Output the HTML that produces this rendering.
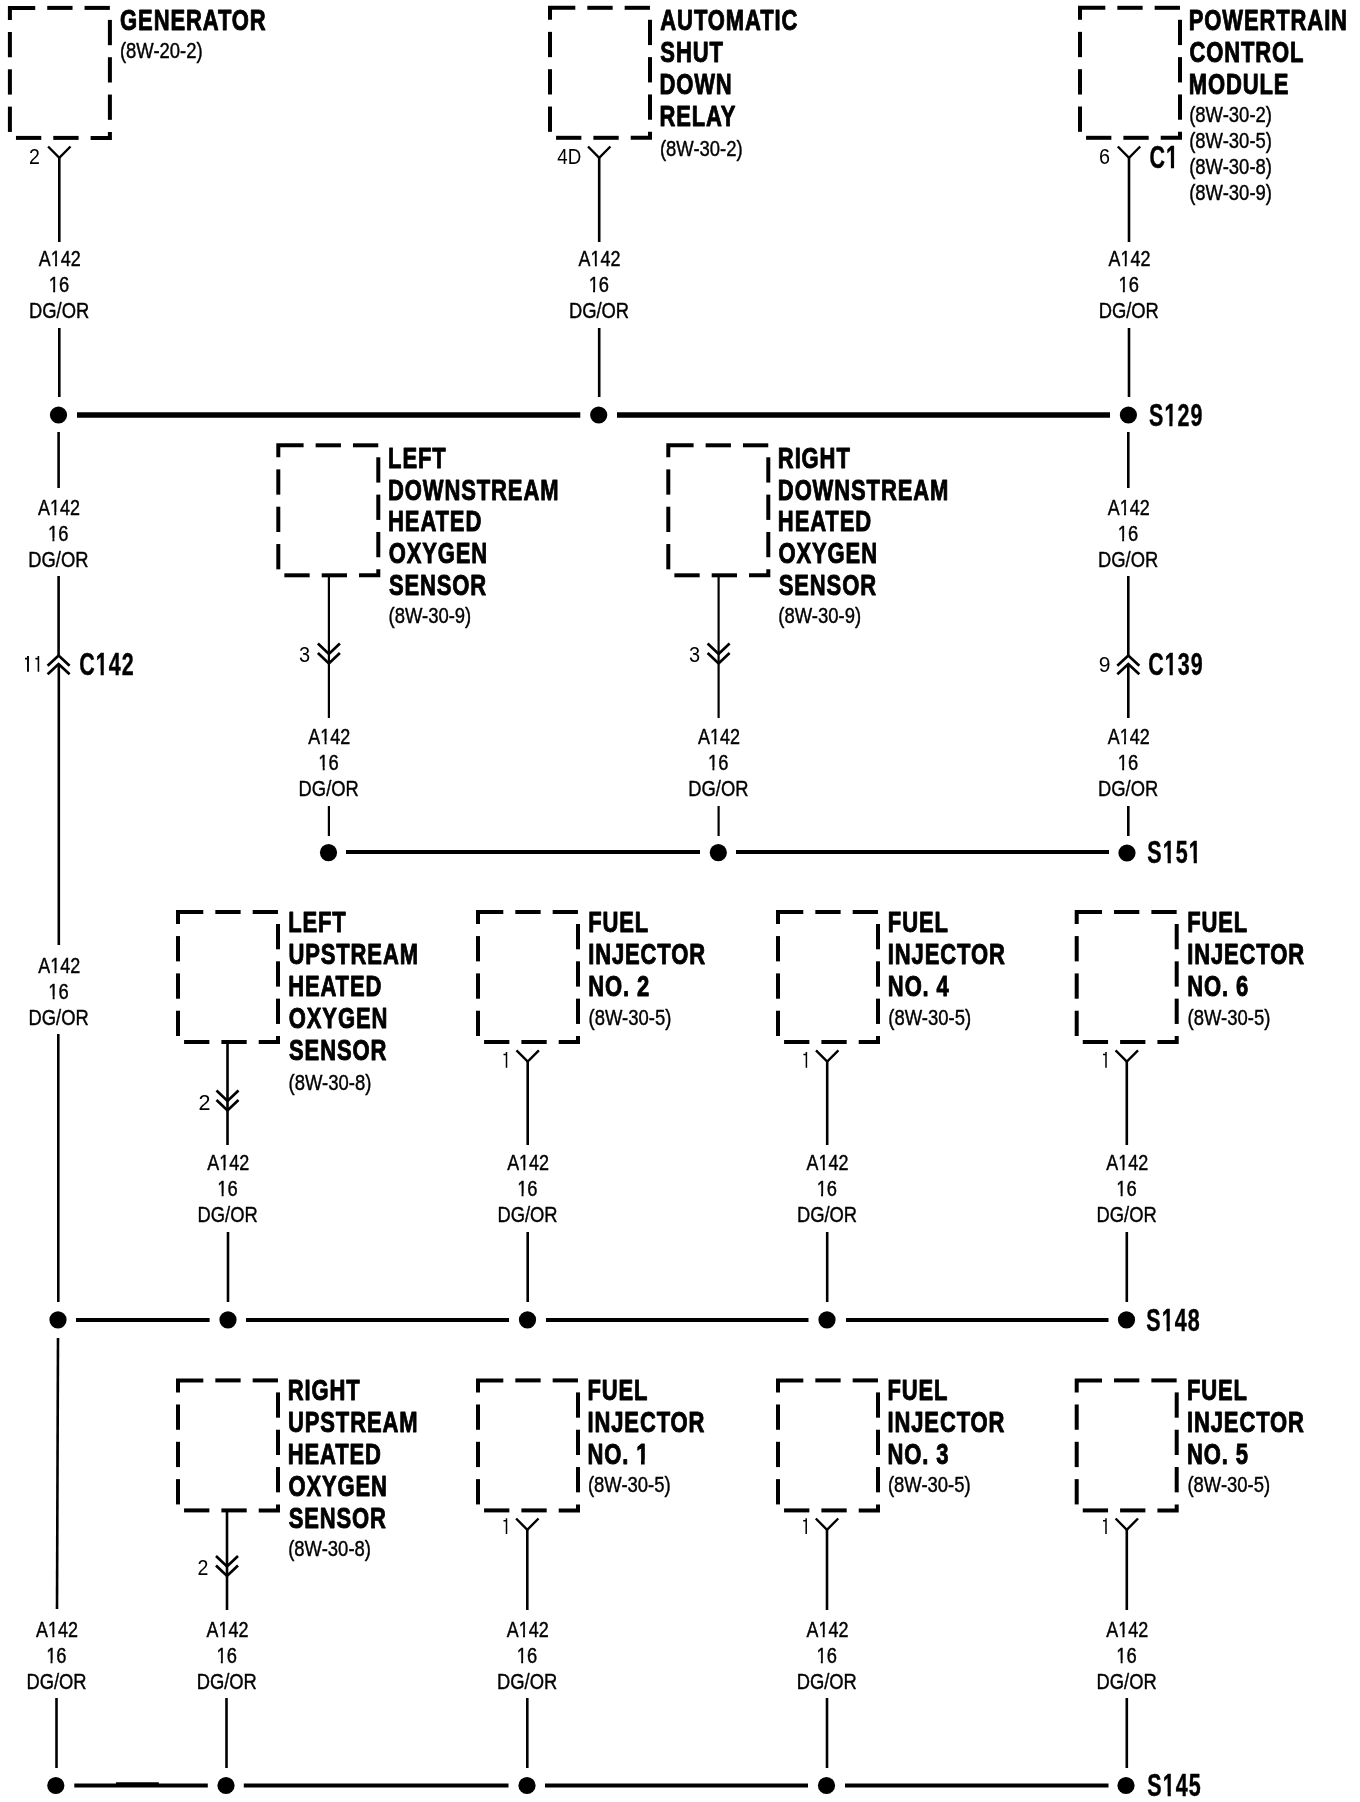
<!DOCTYPE html>
<html><head><meta charset="utf-8"><title>A142 splice diagram</title><style>
html,body{margin:0;padding:0;background:#fff;}
svg{display:block;will-change:transform;}
text{font-family:"Liberation Sans",sans-serif;fill:#000;}
</style></head><body>
<svg width="1360" height="1802" viewBox="0 0 1360 1802">
<rect width="1360" height="1802" fill="#fff"/>
<g stroke="#000" fill="#000" stroke-linecap="butt">
<path d="M9.90,19.94 L9.90,7.90 L35.20,7.90" fill="none" stroke-width="4.0" stroke-linejoin="miter"/>
<path d="M47.23,7.90 L72.53,7.90" fill="none" stroke-width="4.0" stroke-linejoin="miter"/>
<path d="M84.56,7.90 L109.86,7.90" fill="none" stroke-width="4.0" stroke-linejoin="miter"/>
<path d="M109.90,19.89 L109.90,45.19" fill="none" stroke-width="4.0" stroke-linejoin="miter"/>
<path d="M109.90,57.22 L109.90,82.52" fill="none" stroke-width="4.0" stroke-linejoin="miter"/>
<path d="M109.90,94.55 L109.90,119.85" fill="none" stroke-width="4.0" stroke-linejoin="miter"/>
<path d="M109.90,131.88 L109.90,137.90 L90.62,137.90" fill="none" stroke-width="4.0" stroke-linejoin="miter"/>
<path d="M78.59,137.90 L53.29,137.90" fill="none" stroke-width="4.0" stroke-linejoin="miter"/>
<path d="M41.26,137.90 L15.96,137.90" fill="none" stroke-width="4.0" stroke-linejoin="miter"/>
<path d="M9.90,131.93 L9.90,106.63" fill="none" stroke-width="4.0" stroke-linejoin="miter"/>
<path d="M9.90,94.60 L9.90,69.30" fill="none" stroke-width="4.0" stroke-linejoin="miter"/>
<path d="M9.90,57.27 L9.90,31.97" fill="none" stroke-width="4.0" stroke-linejoin="miter"/>
<path d="M550.00,19.84 L550.00,7.80 L575.30,7.80" fill="none" stroke-width="4.0" stroke-linejoin="miter"/>
<path d="M587.33,7.80 L612.63,7.80" fill="none" stroke-width="4.0" stroke-linejoin="miter"/>
<path d="M624.66,7.80 L649.96,7.80" fill="none" stroke-width="4.0" stroke-linejoin="miter"/>
<path d="M650.00,19.79 L650.00,45.09" fill="none" stroke-width="4.0" stroke-linejoin="miter"/>
<path d="M650.00,57.12 L650.00,82.42" fill="none" stroke-width="4.0" stroke-linejoin="miter"/>
<path d="M650.00,94.45 L650.00,119.75" fill="none" stroke-width="4.0" stroke-linejoin="miter"/>
<path d="M650.00,131.78 L650.00,137.80 L630.72,137.80" fill="none" stroke-width="4.0" stroke-linejoin="miter"/>
<path d="M618.69,137.80 L593.39,137.80" fill="none" stroke-width="4.0" stroke-linejoin="miter"/>
<path d="M581.36,137.80 L556.06,137.80" fill="none" stroke-width="4.0" stroke-linejoin="miter"/>
<path d="M550.00,131.83 L550.00,106.53" fill="none" stroke-width="4.0" stroke-linejoin="miter"/>
<path d="M550.00,94.50 L550.00,69.20" fill="none" stroke-width="4.0" stroke-linejoin="miter"/>
<path d="M550.00,57.17 L550.00,31.87" fill="none" stroke-width="4.0" stroke-linejoin="miter"/>
<path d="M1080.00,19.84 L1080.00,7.80 L1105.30,7.80" fill="none" stroke-width="4.0" stroke-linejoin="miter"/>
<path d="M1117.33,7.80 L1142.63,7.80" fill="none" stroke-width="4.0" stroke-linejoin="miter"/>
<path d="M1154.66,7.80 L1179.96,7.80" fill="none" stroke-width="4.0" stroke-linejoin="miter"/>
<path d="M1180.00,19.79 L1180.00,45.09" fill="none" stroke-width="4.0" stroke-linejoin="miter"/>
<path d="M1180.00,57.12 L1180.00,82.42" fill="none" stroke-width="4.0" stroke-linejoin="miter"/>
<path d="M1180.00,94.45 L1180.00,119.75" fill="none" stroke-width="4.0" stroke-linejoin="miter"/>
<path d="M1180.00,131.78 L1180.00,137.80 L1160.72,137.80" fill="none" stroke-width="4.0" stroke-linejoin="miter"/>
<path d="M1148.69,137.80 L1123.39,137.80" fill="none" stroke-width="4.0" stroke-linejoin="miter"/>
<path d="M1111.36,137.80 L1086.06,137.80" fill="none" stroke-width="4.0" stroke-linejoin="miter"/>
<path d="M1080.00,131.83 L1080.00,106.53" fill="none" stroke-width="4.0" stroke-linejoin="miter"/>
<path d="M1080.00,94.50 L1080.00,69.20" fill="none" stroke-width="4.0" stroke-linejoin="miter"/>
<path d="M1080.00,57.17 L1080.00,31.87" fill="none" stroke-width="4.0" stroke-linejoin="miter"/>
<path d="M48.099999999999994,146.5 L59.3,157.8 L70.5,146.5" fill="none" stroke-width="2.4"/>
<path d="M588.0,146.5 L599.2,157.8 L610.4000000000001,146.5" fill="none" stroke-width="2.4"/>
<path d="M1117.8,146.5 L1129,157.8 L1140.2,146.5" fill="none" stroke-width="2.4"/>
<line x1="59.3" y1="157" x2="59.3" y2="242" stroke-width="2.6"/>
<line x1="59.3" y1="328" x2="59.3" y2="397" stroke-width="2.6"/>
<line x1="599.2" y1="157" x2="599.2" y2="242" stroke-width="2.6"/>
<line x1="599.2" y1="328" x2="599.2" y2="397" stroke-width="2.6"/>
<line x1="1129" y1="157" x2="1129" y2="242" stroke-width="2.6"/>
<line x1="1129" y1="328" x2="1129" y2="397" stroke-width="2.6"/>
<circle cx="58.5" cy="415" r="8.6" stroke="none"/>
<circle cx="598.7" cy="415" r="8.6" stroke="none"/>
<circle cx="1128.4" cy="415" r="8.6" stroke="none"/>
<line x1="77" y1="415" x2="580.3" y2="415" stroke-width="5.5"/>
<line x1="617" y1="415" x2="1110" y2="415" stroke-width="5.5"/>
<line x1="58.6" y1="432" x2="58.6" y2="488" stroke-width="2.6"/>
<line x1="58.6" y1="576" x2="58.6" y2="656" stroke-width="2.6"/>
<line x1="1128.3" y1="432" x2="1128.3" y2="488" stroke-width="2.6"/>
<line x1="1128.3" y1="576" x2="1128.3" y2="656" stroke-width="2.6"/>
<path d="M47.6,665.8 L58.6,655.5 L69.6,665.8" fill="none" stroke-width="2.7"/>
<path d="M47.6,674.3 L58.6,664.0 L69.6,674.3" fill="none" stroke-width="2.7"/>
<path d="M1117.3,665.8 L1128.3,655.5 L1139.3,665.8" fill="none" stroke-width="2.7"/>
<path d="M1117.3,674.3 L1128.3,664.0 L1139.3,674.3" fill="none" stroke-width="2.7"/>
<path d="M28.0,671.8 V656.0 M25.0,658.6 H28.3" fill="none" stroke-width="1.9"/>
<path d="M38.4,671.8 V656.0 M35.4,658.6 H38.699999999999996" fill="none" stroke-width="1.6"/>
<line x1="1128.3" y1="664" x2="1128.3" y2="718" stroke-width="2.6"/>
<line x1="1128.3" y1="806" x2="1128.3" y2="836" stroke-width="2.6"/>
<line x1="58.8" y1="664" x2="58.8" y2="945" stroke-width="2.6"/>
<line x1="58.3" y1="1034" x2="58.3" y2="1302" stroke-width="2.6"/>
<path d="M278.30,457.34 L278.30,445.30 L303.60,445.30" fill="none" stroke-width="4.0" stroke-linejoin="miter"/>
<path d="M315.63,445.30 L340.93,445.30" fill="none" stroke-width="4.0" stroke-linejoin="miter"/>
<path d="M352.96,445.30 L378.26,445.30" fill="none" stroke-width="4.0" stroke-linejoin="miter"/>
<path d="M378.30,457.29 L378.30,482.59" fill="none" stroke-width="4.0" stroke-linejoin="miter"/>
<path d="M378.30,494.62 L378.30,519.92" fill="none" stroke-width="4.0" stroke-linejoin="miter"/>
<path d="M378.30,531.95 L378.30,557.25" fill="none" stroke-width="4.0" stroke-linejoin="miter"/>
<path d="M378.30,569.28 L378.30,575.30 L359.02,575.30" fill="none" stroke-width="4.0" stroke-linejoin="miter"/>
<path d="M346.99,575.30 L321.69,575.30" fill="none" stroke-width="4.0" stroke-linejoin="miter"/>
<path d="M309.66,575.30 L284.36,575.30" fill="none" stroke-width="4.0" stroke-linejoin="miter"/>
<path d="M278.30,569.33 L278.30,544.03" fill="none" stroke-width="4.0" stroke-linejoin="miter"/>
<path d="M278.30,532.00 L278.30,506.70" fill="none" stroke-width="4.0" stroke-linejoin="miter"/>
<path d="M278.30,494.67 L278.30,469.37" fill="none" stroke-width="4.0" stroke-linejoin="miter"/>
<path d="M668.30,457.34 L668.30,445.30 L693.60,445.30" fill="none" stroke-width="4.0" stroke-linejoin="miter"/>
<path d="M705.63,445.30 L730.93,445.30" fill="none" stroke-width="4.0" stroke-linejoin="miter"/>
<path d="M742.96,445.30 L768.26,445.30" fill="none" stroke-width="4.0" stroke-linejoin="miter"/>
<path d="M768.30,457.29 L768.30,482.59" fill="none" stroke-width="4.0" stroke-linejoin="miter"/>
<path d="M768.30,494.62 L768.30,519.92" fill="none" stroke-width="4.0" stroke-linejoin="miter"/>
<path d="M768.30,531.95 L768.30,557.25" fill="none" stroke-width="4.0" stroke-linejoin="miter"/>
<path d="M768.30,569.28 L768.30,575.30 L749.02,575.30" fill="none" stroke-width="4.0" stroke-linejoin="miter"/>
<path d="M736.99,575.30 L711.69,575.30" fill="none" stroke-width="4.0" stroke-linejoin="miter"/>
<path d="M699.66,575.30 L674.36,575.30" fill="none" stroke-width="4.0" stroke-linejoin="miter"/>
<path d="M668.30,569.33 L668.30,544.03" fill="none" stroke-width="4.0" stroke-linejoin="miter"/>
<path d="M668.30,532.00 L668.30,506.70" fill="none" stroke-width="4.0" stroke-linejoin="miter"/>
<path d="M668.30,494.67 L668.30,469.37" fill="none" stroke-width="4.0" stroke-linejoin="miter"/>
<line x1="328.9" y1="577" x2="328.9" y2="718" stroke-width="2.2"/>
<path d="M317.9,643.5 L328.9,654.0 L339.9,643.5" fill="none" stroke-width="2.7"/>
<path d="M317.9,653.0 L328.9,663.5 L339.9,653.0" fill="none" stroke-width="2.7"/>
<line x1="328.9" y1="806" x2="328.9" y2="836" stroke-width="2.2"/>
<line x1="718.6" y1="577" x2="718.6" y2="718" stroke-width="2.2"/>
<path d="M707.6,643.5 L718.6,654.0 L729.6,643.5" fill="none" stroke-width="2.7"/>
<path d="M707.6,653.0 L718.6,663.5 L729.6,653.0" fill="none" stroke-width="2.7"/>
<line x1="718.6" y1="806" x2="718.6" y2="836" stroke-width="2.2"/>
<circle cx="328.5" cy="852.6" r="8.6" stroke="none"/>
<circle cx="718.3" cy="852.6" r="8.6" stroke="none"/>
<circle cx="1127" cy="853" r="8.6" stroke="none"/>
<line x1="346" y1="852" x2="700" y2="852" stroke-width="4"/>
<line x1="736" y1="852" x2="1109" y2="852" stroke-width="4"/>
<path d="M178.00,924.04 L178.00,912.00 L203.30,912.00" fill="none" stroke-width="4.0" stroke-linejoin="miter"/>
<path d="M215.33,912.00 L240.63,912.00" fill="none" stroke-width="4.0" stroke-linejoin="miter"/>
<path d="M252.66,912.00 L277.96,912.00" fill="none" stroke-width="4.0" stroke-linejoin="miter"/>
<path d="M278.00,923.99 L278.00,949.29" fill="none" stroke-width="4.0" stroke-linejoin="miter"/>
<path d="M278.00,961.32 L278.00,986.62" fill="none" stroke-width="4.0" stroke-linejoin="miter"/>
<path d="M278.00,998.65 L278.00,1023.95" fill="none" stroke-width="4.0" stroke-linejoin="miter"/>
<path d="M278.00,1035.98 L278.00,1042.00 L258.72,1042.00" fill="none" stroke-width="4.0" stroke-linejoin="miter"/>
<path d="M246.69,1042.00 L221.39,1042.00" fill="none" stroke-width="4.0" stroke-linejoin="miter"/>
<path d="M209.36,1042.00 L184.06,1042.00" fill="none" stroke-width="4.0" stroke-linejoin="miter"/>
<path d="M178.00,1036.03 L178.00,1010.73" fill="none" stroke-width="4.0" stroke-linejoin="miter"/>
<path d="M178.00,998.70 L178.00,973.40" fill="none" stroke-width="4.0" stroke-linejoin="miter"/>
<path d="M178.00,961.37 L178.00,936.07" fill="none" stroke-width="4.0" stroke-linejoin="miter"/>
<path d="M478.00,924.04 L478.00,912.00 L503.30,912.00" fill="none" stroke-width="4.0" stroke-linejoin="miter"/>
<path d="M515.33,912.00 L540.63,912.00" fill="none" stroke-width="4.0" stroke-linejoin="miter"/>
<path d="M552.66,912.00 L577.96,912.00" fill="none" stroke-width="4.0" stroke-linejoin="miter"/>
<path d="M578.00,923.99 L578.00,949.29" fill="none" stroke-width="4.0" stroke-linejoin="miter"/>
<path d="M578.00,961.32 L578.00,986.62" fill="none" stroke-width="4.0" stroke-linejoin="miter"/>
<path d="M578.00,998.65 L578.00,1023.95" fill="none" stroke-width="4.0" stroke-linejoin="miter"/>
<path d="M578.00,1035.98 L578.00,1042.00 L558.72,1042.00" fill="none" stroke-width="4.0" stroke-linejoin="miter"/>
<path d="M546.69,1042.00 L521.39,1042.00" fill="none" stroke-width="4.0" stroke-linejoin="miter"/>
<path d="M509.36,1042.00 L484.06,1042.00" fill="none" stroke-width="4.0" stroke-linejoin="miter"/>
<path d="M478.00,1036.03 L478.00,1010.73" fill="none" stroke-width="4.0" stroke-linejoin="miter"/>
<path d="M478.00,998.70 L478.00,973.40" fill="none" stroke-width="4.0" stroke-linejoin="miter"/>
<path d="M478.00,961.37 L478.00,936.07" fill="none" stroke-width="4.0" stroke-linejoin="miter"/>
<path d="M778.00,924.04 L778.00,912.00 L803.30,912.00" fill="none" stroke-width="4.0" stroke-linejoin="miter"/>
<path d="M815.33,912.00 L840.63,912.00" fill="none" stroke-width="4.0" stroke-linejoin="miter"/>
<path d="M852.66,912.00 L877.96,912.00" fill="none" stroke-width="4.0" stroke-linejoin="miter"/>
<path d="M878.00,923.99 L878.00,949.29" fill="none" stroke-width="4.0" stroke-linejoin="miter"/>
<path d="M878.00,961.32 L878.00,986.62" fill="none" stroke-width="4.0" stroke-linejoin="miter"/>
<path d="M878.00,998.65 L878.00,1023.95" fill="none" stroke-width="4.0" stroke-linejoin="miter"/>
<path d="M878.00,1035.98 L878.00,1042.00 L858.72,1042.00" fill="none" stroke-width="4.0" stroke-linejoin="miter"/>
<path d="M846.69,1042.00 L821.39,1042.00" fill="none" stroke-width="4.0" stroke-linejoin="miter"/>
<path d="M809.36,1042.00 L784.06,1042.00" fill="none" stroke-width="4.0" stroke-linejoin="miter"/>
<path d="M778.00,1036.03 L778.00,1010.73" fill="none" stroke-width="4.0" stroke-linejoin="miter"/>
<path d="M778.00,998.70 L778.00,973.40" fill="none" stroke-width="4.0" stroke-linejoin="miter"/>
<path d="M778.00,961.37 L778.00,936.07" fill="none" stroke-width="4.0" stroke-linejoin="miter"/>
<path d="M1076.70,924.04 L1076.70,912.00 L1102.00,912.00" fill="none" stroke-width="4.0" stroke-linejoin="miter"/>
<path d="M1114.03,912.00 L1139.33,912.00" fill="none" stroke-width="4.0" stroke-linejoin="miter"/>
<path d="M1151.36,912.00 L1176.66,912.00" fill="none" stroke-width="4.0" stroke-linejoin="miter"/>
<path d="M1176.70,923.99 L1176.70,949.29" fill="none" stroke-width="4.0" stroke-linejoin="miter"/>
<path d="M1176.70,961.32 L1176.70,986.62" fill="none" stroke-width="4.0" stroke-linejoin="miter"/>
<path d="M1176.70,998.65 L1176.70,1023.95" fill="none" stroke-width="4.0" stroke-linejoin="miter"/>
<path d="M1176.70,1035.98 L1176.70,1042.00 L1157.42,1042.00" fill="none" stroke-width="4.0" stroke-linejoin="miter"/>
<path d="M1145.39,1042.00 L1120.09,1042.00" fill="none" stroke-width="4.0" stroke-linejoin="miter"/>
<path d="M1108.06,1042.00 L1082.76,1042.00" fill="none" stroke-width="4.0" stroke-linejoin="miter"/>
<path d="M1076.70,1036.03 L1076.70,1010.73" fill="none" stroke-width="4.0" stroke-linejoin="miter"/>
<path d="M1076.70,998.70 L1076.70,973.40" fill="none" stroke-width="4.0" stroke-linejoin="miter"/>
<path d="M1076.70,961.37 L1076.70,936.07" fill="none" stroke-width="4.0" stroke-linejoin="miter"/>
<line x1="227.5" y1="1043" x2="227.5" y2="1145" stroke-width="2.6"/>
<path d="M216.5,1090.5 L227.5,1101.0 L238.5,1090.5" fill="none" stroke-width="2.7"/>
<path d="M216.5,1100.0 L227.5,1110.5 L238.5,1100.0" fill="none" stroke-width="2.7"/>
<line x1="228" y1="1232" x2="228" y2="1302" stroke-width="2.6"/>
<path d="M516.5,1050.3 L527.7,1061.6 L538.9000000000001,1050.3" fill="none" stroke-width="2.4"/>
<path d="M506.5,1067.8 V1052.0 M503.5,1054.6 H506.8" fill="none" stroke-width="1.5"/>
<line x1="527.7" y1="1061" x2="527.7" y2="1145" stroke-width="2.6"/>
<line x1="527.7" y1="1232" x2="527.7" y2="1302" stroke-width="2.6"/>
<path d="M816.0,1050.3 L827.2,1061.6 L838.4000000000001,1050.3" fill="none" stroke-width="2.4"/>
<path d="M806.4,1067.8 V1052.0 M803.4,1054.6 H806.6999999999999" fill="none" stroke-width="1.5"/>
<line x1="827.2" y1="1061" x2="827.2" y2="1145" stroke-width="2.6"/>
<line x1="827.2" y1="1232" x2="827.2" y2="1302" stroke-width="2.6"/>
<path d="M1115.6,1050.3 L1126.8,1061.6 L1138.0,1050.3" fill="none" stroke-width="2.4"/>
<path d="M1106,1067.8 V1052.0 M1103.0,1054.6 H1106.3" fill="none" stroke-width="1.5"/>
<line x1="1126.8" y1="1061" x2="1126.8" y2="1145" stroke-width="2.6"/>
<line x1="1126.8" y1="1232" x2="1126.8" y2="1302" stroke-width="2.6"/>
<circle cx="58" cy="1319.8" r="8.6" stroke="none"/>
<circle cx="228" cy="1319.8" r="8.6" stroke="none"/>
<circle cx="527.5" cy="1319.8" r="8.6" stroke="none"/>
<circle cx="827" cy="1319.8" r="8.6" stroke="none"/>
<circle cx="1126.5" cy="1319.8" r="8.6" stroke="none"/>
<line x1="76" y1="1320" x2="209.6" y2="1320" stroke-width="4"/>
<line x1="246" y1="1320" x2="509" y2="1320" stroke-width="4"/>
<line x1="546" y1="1320" x2="808.5" y2="1320" stroke-width="4"/>
<line x1="846" y1="1320" x2="1108.5" y2="1320" stroke-width="4"/>
<path d="M178.00,1392.44 L178.00,1380.40 L203.30,1380.40" fill="none" stroke-width="4.0" stroke-linejoin="miter"/>
<path d="M215.33,1380.40 L240.63,1380.40" fill="none" stroke-width="4.0" stroke-linejoin="miter"/>
<path d="M252.66,1380.40 L277.96,1380.40" fill="none" stroke-width="4.0" stroke-linejoin="miter"/>
<path d="M278.00,1392.39 L278.00,1417.69" fill="none" stroke-width="4.0" stroke-linejoin="miter"/>
<path d="M278.00,1429.72 L278.00,1455.02" fill="none" stroke-width="4.0" stroke-linejoin="miter"/>
<path d="M278.00,1467.05 L278.00,1492.35" fill="none" stroke-width="4.0" stroke-linejoin="miter"/>
<path d="M278.00,1504.38 L278.00,1510.40 L258.72,1510.40" fill="none" stroke-width="4.0" stroke-linejoin="miter"/>
<path d="M246.69,1510.40 L221.39,1510.40" fill="none" stroke-width="4.0" stroke-linejoin="miter"/>
<path d="M209.36,1510.40 L184.06,1510.40" fill="none" stroke-width="4.0" stroke-linejoin="miter"/>
<path d="M178.00,1504.43 L178.00,1479.13" fill="none" stroke-width="4.0" stroke-linejoin="miter"/>
<path d="M178.00,1467.10 L178.00,1441.80" fill="none" stroke-width="4.0" stroke-linejoin="miter"/>
<path d="M178.00,1429.77 L178.00,1404.47" fill="none" stroke-width="4.0" stroke-linejoin="miter"/>
<path d="M478.00,1392.44 L478.00,1380.40 L503.30,1380.40" fill="none" stroke-width="4.0" stroke-linejoin="miter"/>
<path d="M515.33,1380.40 L540.63,1380.40" fill="none" stroke-width="4.0" stroke-linejoin="miter"/>
<path d="M552.66,1380.40 L577.96,1380.40" fill="none" stroke-width="4.0" stroke-linejoin="miter"/>
<path d="M578.00,1392.39 L578.00,1417.69" fill="none" stroke-width="4.0" stroke-linejoin="miter"/>
<path d="M578.00,1429.72 L578.00,1455.02" fill="none" stroke-width="4.0" stroke-linejoin="miter"/>
<path d="M578.00,1467.05 L578.00,1492.35" fill="none" stroke-width="4.0" stroke-linejoin="miter"/>
<path d="M578.00,1504.38 L578.00,1510.40 L558.72,1510.40" fill="none" stroke-width="4.0" stroke-linejoin="miter"/>
<path d="M546.69,1510.40 L521.39,1510.40" fill="none" stroke-width="4.0" stroke-linejoin="miter"/>
<path d="M509.36,1510.40 L484.06,1510.40" fill="none" stroke-width="4.0" stroke-linejoin="miter"/>
<path d="M478.00,1504.43 L478.00,1479.13" fill="none" stroke-width="4.0" stroke-linejoin="miter"/>
<path d="M478.00,1467.10 L478.00,1441.80" fill="none" stroke-width="4.0" stroke-linejoin="miter"/>
<path d="M478.00,1429.77 L478.00,1404.47" fill="none" stroke-width="4.0" stroke-linejoin="miter"/>
<path d="M778.00,1392.44 L778.00,1380.40 L803.30,1380.40" fill="none" stroke-width="4.0" stroke-linejoin="miter"/>
<path d="M815.33,1380.40 L840.63,1380.40" fill="none" stroke-width="4.0" stroke-linejoin="miter"/>
<path d="M852.66,1380.40 L877.96,1380.40" fill="none" stroke-width="4.0" stroke-linejoin="miter"/>
<path d="M878.00,1392.39 L878.00,1417.69" fill="none" stroke-width="4.0" stroke-linejoin="miter"/>
<path d="M878.00,1429.72 L878.00,1455.02" fill="none" stroke-width="4.0" stroke-linejoin="miter"/>
<path d="M878.00,1467.05 L878.00,1492.35" fill="none" stroke-width="4.0" stroke-linejoin="miter"/>
<path d="M878.00,1504.38 L878.00,1510.40 L858.72,1510.40" fill="none" stroke-width="4.0" stroke-linejoin="miter"/>
<path d="M846.69,1510.40 L821.39,1510.40" fill="none" stroke-width="4.0" stroke-linejoin="miter"/>
<path d="M809.36,1510.40 L784.06,1510.40" fill="none" stroke-width="4.0" stroke-linejoin="miter"/>
<path d="M778.00,1504.43 L778.00,1479.13" fill="none" stroke-width="4.0" stroke-linejoin="miter"/>
<path d="M778.00,1467.10 L778.00,1441.80" fill="none" stroke-width="4.0" stroke-linejoin="miter"/>
<path d="M778.00,1429.77 L778.00,1404.47" fill="none" stroke-width="4.0" stroke-linejoin="miter"/>
<path d="M1076.70,1392.44 L1076.70,1380.40 L1102.00,1380.40" fill="none" stroke-width="4.0" stroke-linejoin="miter"/>
<path d="M1114.03,1380.40 L1139.33,1380.40" fill="none" stroke-width="4.0" stroke-linejoin="miter"/>
<path d="M1151.36,1380.40 L1176.66,1380.40" fill="none" stroke-width="4.0" stroke-linejoin="miter"/>
<path d="M1176.70,1392.39 L1176.70,1417.69" fill="none" stroke-width="4.0" stroke-linejoin="miter"/>
<path d="M1176.70,1429.72 L1176.70,1455.02" fill="none" stroke-width="4.0" stroke-linejoin="miter"/>
<path d="M1176.70,1467.05 L1176.70,1492.35" fill="none" stroke-width="4.0" stroke-linejoin="miter"/>
<path d="M1176.70,1504.38 L1176.70,1510.40 L1157.42,1510.40" fill="none" stroke-width="4.0" stroke-linejoin="miter"/>
<path d="M1145.39,1510.40 L1120.09,1510.40" fill="none" stroke-width="4.0" stroke-linejoin="miter"/>
<path d="M1108.06,1510.40 L1082.76,1510.40" fill="none" stroke-width="4.0" stroke-linejoin="miter"/>
<path d="M1076.70,1504.43 L1076.70,1479.13" fill="none" stroke-width="4.0" stroke-linejoin="miter"/>
<path d="M1076.70,1467.10 L1076.70,1441.80" fill="none" stroke-width="4.0" stroke-linejoin="miter"/>
<path d="M1076.70,1429.77 L1076.70,1404.47" fill="none" stroke-width="4.0" stroke-linejoin="miter"/>
<line x1="58" y1="1338" x2="57" y2="1609" stroke-width="2.6"/>
<line x1="56.5" y1="1698" x2="56.5" y2="1768" stroke-width="2.6"/>
<line x1="227" y1="1511" x2="227" y2="1610" stroke-width="2.6"/>
<path d="M216,1556.0 L227,1566.5 L238,1556.0" fill="none" stroke-width="2.7"/>
<path d="M216,1565.5 L227,1576.0 L238,1565.5" fill="none" stroke-width="2.7"/>
<line x1="226.5" y1="1698" x2="226.5" y2="1768" stroke-width="2.6"/>
<path d="M516.0999999999999,1518.5 L527.3,1529.8 L538.5,1518.5" fill="none" stroke-width="2.4"/>
<path d="M506.5,1534 V1518.2 M503.5,1520.8 H506.8" fill="none" stroke-width="1.5"/>
<line x1="527.3" y1="1528" x2="527.3" y2="1610" stroke-width="2.6"/>
<line x1="527.3" y1="1698" x2="527.3" y2="1768" stroke-width="2.6"/>
<path d="M815.8,1518.5 L827,1529.8 L838.2,1518.5" fill="none" stroke-width="2.4"/>
<path d="M806.2,1534 V1518.2 M803.2,1520.8 H806.5" fill="none" stroke-width="1.5"/>
<line x1="827" y1="1528" x2="827" y2="1610" stroke-width="2.6"/>
<line x1="827" y1="1698" x2="827" y2="1768" stroke-width="2.6"/>
<path d="M1115.6,1518.5 L1126.8,1529.8 L1138.0,1518.5" fill="none" stroke-width="2.4"/>
<path d="M1106,1534 V1518.2 M1103.0,1520.8 H1106.3" fill="none" stroke-width="1.5"/>
<line x1="1126.8" y1="1528" x2="1126.8" y2="1610" stroke-width="2.6"/>
<line x1="1126.8" y1="1698" x2="1126.8" y2="1768" stroke-width="2.6"/>
<circle cx="55.8" cy="1785.5" r="8.6" stroke="none"/>
<circle cx="226" cy="1785.5" r="8.6" stroke="none"/>
<circle cx="527" cy="1785.5" r="8.6" stroke="none"/>
<circle cx="826.5" cy="1785.5" r="8.6" stroke="none"/>
<circle cx="1126" cy="1785.5" r="8.6" stroke="none"/>
<line x1="74.3" y1="1785.5" x2="207.8" y2="1785.5" stroke-width="4"/>
<line x1="243.8" y1="1785.5" x2="508.5" y2="1785.5" stroke-width="4"/>
<line x1="545" y1="1785.5" x2="808" y2="1785.5" stroke-width="4"/>
<line x1="845" y1="1785.5" x2="1108.5" y2="1785.5" stroke-width="4"/>
<line x1="116" y1="1783.8" x2="158.8" y2="1783.8" stroke-width="3.2"/>
</g>
<g>
<text transform="translate(120.12,30.00) scale(0.7460,1)" font-size="29.5" font-weight="bold" letter-spacing="1.180" stroke="#000" stroke-width="0.938" stroke-linejoin="round">GENERATOR</text>
<text transform="translate(119.89,58.20) scale(0.8400,1)" font-size="22.0" font-weight="normal" stroke="#000" stroke-width="0.417" stroke-linejoin="round">(8W-20-2)</text>
<text transform="translate(660.34,30.00) scale(0.7460,1)" font-size="29.5" font-weight="bold" letter-spacing="1.180" stroke="#000" stroke-width="0.938" stroke-linejoin="round">AUTOMATIC</text>
<text transform="translate(660.34,62.00) scale(0.7460,1)" font-size="29.5" font-weight="bold" letter-spacing="1.180" stroke="#000" stroke-width="0.938" stroke-linejoin="round">SHUT</text>
<text transform="translate(659.46,94.00) scale(0.7460,1)" font-size="29.5" font-weight="bold" letter-spacing="1.180" stroke="#000" stroke-width="0.938" stroke-linejoin="round">DOWN</text>
<text transform="translate(659.46,126.00) scale(0.7460,1)" font-size="29.5" font-weight="bold" letter-spacing="1.180" stroke="#000" stroke-width="0.938" stroke-linejoin="round">RELAY</text>
<text transform="translate(659.89,155.80) scale(0.8400,1)" font-size="22.0" font-weight="normal" stroke="#000" stroke-width="0.417" stroke-linejoin="round">(8W-30-2)</text>
<text transform="translate(1188.76,30.00) scale(0.7460,1)" font-size="29.5" font-weight="bold" letter-spacing="1.180" stroke="#000" stroke-width="0.938" stroke-linejoin="round">POWERTRAIN</text>
<text transform="translate(1189.42,62.20) scale(0.7460,1)" font-size="29.5" font-weight="bold" letter-spacing="1.180" stroke="#000" stroke-width="0.938" stroke-linejoin="round">CONTROL</text>
<text transform="translate(1188.76,94.40) scale(0.7460,1)" font-size="29.5" font-weight="bold" letter-spacing="1.180" stroke="#000" stroke-width="0.938" stroke-linejoin="round">MODULE</text>
<text transform="translate(1189.19,122.00) scale(0.8400,1)" font-size="22.0" font-weight="normal" stroke="#000" stroke-width="0.417" stroke-linejoin="round">(8W-30-2)</text>
<text transform="translate(1189.19,148.00) scale(0.8400,1)" font-size="22.0" font-weight="normal" stroke="#000" stroke-width="0.417" stroke-linejoin="round">(8W-30-5)</text>
<text transform="translate(1189.19,174.00) scale(0.8400,1)" font-size="22.0" font-weight="normal" stroke="#000" stroke-width="0.417" stroke-linejoin="round">(8W-30-8)</text>
<text transform="translate(1189.19,200.00) scale(0.8400,1)" font-size="22.0" font-weight="normal" stroke="#000" stroke-width="0.417" stroke-linejoin="round">(8W-30-9)</text>
<text transform="translate(29.02,164.00) scale(0.8893,1)" font-size="22.0" font-weight="normal">2</text>
<text transform="translate(557.22,164.20) scale(0.8527,1)" font-size="22.0" font-weight="normal">4D</text>
<text transform="translate(1099.01,163.90) scale(0.8992,1)" font-size="22.0" font-weight="normal">6</text>
<text transform="translate(1149.44,167.90) scale(0.7050,1)" font-size="30.5" font-weight="bold" letter-spacing="1.525" stroke="#000" stroke-width="0.426" stroke-linejoin="round">C1</text>
<text transform="translate(38.72,266.30) scale(0.8168,1)" font-size="22.0" font-weight="normal" stroke="#000" stroke-width="0.429" stroke-linejoin="round">A142</text>
<text transform="translate(48.76,292.30) scale(0.8333,1)" font-size="22.0" font-weight="normal" stroke="#000" stroke-width="0.420" stroke-linejoin="round">16</text>
<text transform="translate(29.01,318.30) scale(0.8345,1)" font-size="22.0" font-weight="normal" stroke="#000" stroke-width="0.419" stroke-linejoin="round">DG/OR</text>
<text transform="translate(578.62,266.30) scale(0.8168,1)" font-size="22.0" font-weight="normal" stroke="#000" stroke-width="0.429" stroke-linejoin="round">A142</text>
<text transform="translate(588.66,292.30) scale(0.8333,1)" font-size="22.0" font-weight="normal" stroke="#000" stroke-width="0.420" stroke-linejoin="round">16</text>
<text transform="translate(568.91,318.30) scale(0.8345,1)" font-size="22.0" font-weight="normal" stroke="#000" stroke-width="0.419" stroke-linejoin="round">DG/OR</text>
<text transform="translate(1108.42,266.30) scale(0.8168,1)" font-size="22.0" font-weight="normal" stroke="#000" stroke-width="0.429" stroke-linejoin="round">A142</text>
<text transform="translate(1118.46,292.30) scale(0.8333,1)" font-size="22.0" font-weight="normal" stroke="#000" stroke-width="0.420" stroke-linejoin="round">16</text>
<text transform="translate(1098.71,318.30) scale(0.8345,1)" font-size="22.0" font-weight="normal" stroke="#000" stroke-width="0.419" stroke-linejoin="round">DG/OR</text>
<text transform="translate(1149.05,425.90) scale(0.7050,1)" font-size="30.5" font-weight="bold" letter-spacing="1.525" stroke="#000" stroke-width="0.426" stroke-linejoin="round">S129</text>
<text transform="translate(38.03,514.50) scale(0.8168,1)" font-size="22.0" font-weight="normal" stroke="#000" stroke-width="0.429" stroke-linejoin="round">A142</text>
<text transform="translate(48.06,540.50) scale(0.8333,1)" font-size="22.0" font-weight="normal" stroke="#000" stroke-width="0.420" stroke-linejoin="round">16</text>
<text transform="translate(28.31,566.50) scale(0.8345,1)" font-size="22.0" font-weight="normal" stroke="#000" stroke-width="0.419" stroke-linejoin="round">DG/OR</text>
<text transform="translate(1107.72,514.50) scale(0.8168,1)" font-size="22.0" font-weight="normal" stroke="#000" stroke-width="0.429" stroke-linejoin="round">A142</text>
<text transform="translate(1117.76,540.50) scale(0.8333,1)" font-size="22.0" font-weight="normal" stroke="#000" stroke-width="0.420" stroke-linejoin="round">16</text>
<text transform="translate(1098.01,566.50) scale(0.8345,1)" font-size="22.0" font-weight="normal" stroke="#000" stroke-width="0.419" stroke-linejoin="round">DG/OR</text>
<text transform="translate(79.14,674.90) scale(0.7050,1)" font-size="30.5" font-weight="bold" letter-spacing="1.525" stroke="#000" stroke-width="0.426" stroke-linejoin="round">C142</text>
<text transform="translate(1098.65,672.00) scale(0.9585,1)" font-size="22.0" font-weight="normal">9</text>
<text transform="translate(1148.14,674.90) scale(0.7050,1)" font-size="30.5" font-weight="bold" letter-spacing="1.525" stroke="#000" stroke-width="0.426" stroke-linejoin="round">C139</text>
<text transform="translate(1107.72,743.50) scale(0.8168,1)" font-size="22.0" font-weight="normal" stroke="#000" stroke-width="0.429" stroke-linejoin="round">A142</text>
<text transform="translate(1117.76,769.50) scale(0.8333,1)" font-size="22.0" font-weight="normal" stroke="#000" stroke-width="0.420" stroke-linejoin="round">16</text>
<text transform="translate(1098.01,795.50) scale(0.8345,1)" font-size="22.0" font-weight="normal" stroke="#000" stroke-width="0.419" stroke-linejoin="round">DG/OR</text>
<text transform="translate(38.22,972.50) scale(0.8168,1)" font-size="22.0" font-weight="normal" stroke="#000" stroke-width="0.429" stroke-linejoin="round">A142</text>
<text transform="translate(48.26,998.50) scale(0.8333,1)" font-size="22.0" font-weight="normal" stroke="#000" stroke-width="0.420" stroke-linejoin="round">16</text>
<text transform="translate(28.51,1024.50) scale(0.8345,1)" font-size="22.0" font-weight="normal" stroke="#000" stroke-width="0.419" stroke-linejoin="round">DG/OR</text>
<text transform="translate(388.06,467.80) scale(0.7460,1)" font-size="29.5" font-weight="bold" letter-spacing="1.180" stroke="#000" stroke-width="0.938" stroke-linejoin="round">LEFT</text>
<text transform="translate(388.06,499.50) scale(0.7460,1)" font-size="29.5" font-weight="bold" letter-spacing="1.180" stroke="#000" stroke-width="0.938" stroke-linejoin="round">DOWNSTREAM</text>
<text transform="translate(388.06,531.20) scale(0.7460,1)" font-size="29.5" font-weight="bold" letter-spacing="1.180" stroke="#000" stroke-width="0.938" stroke-linejoin="round">HEATED</text>
<text transform="translate(388.72,562.90) scale(0.7460,1)" font-size="29.5" font-weight="bold" letter-spacing="1.180" stroke="#000" stroke-width="0.938" stroke-linejoin="round">OXYGEN</text>
<text transform="translate(388.94,594.60) scale(0.7460,1)" font-size="29.5" font-weight="bold" letter-spacing="1.180" stroke="#000" stroke-width="0.938" stroke-linejoin="round">SENSOR</text>
<text transform="translate(388.49,622.60) scale(0.8400,1)" font-size="22.0" font-weight="normal" stroke="#000" stroke-width="0.417" stroke-linejoin="round">(8W-30-9)</text>
<text transform="translate(777.86,467.80) scale(0.7460,1)" font-size="29.5" font-weight="bold" letter-spacing="1.180" stroke="#000" stroke-width="0.938" stroke-linejoin="round">RIGHT</text>
<text transform="translate(777.86,499.50) scale(0.7460,1)" font-size="29.5" font-weight="bold" letter-spacing="1.180" stroke="#000" stroke-width="0.938" stroke-linejoin="round">DOWNSTREAM</text>
<text transform="translate(777.86,531.20) scale(0.7460,1)" font-size="29.5" font-weight="bold" letter-spacing="1.180" stroke="#000" stroke-width="0.938" stroke-linejoin="round">HEATED</text>
<text transform="translate(778.52,562.90) scale(0.7460,1)" font-size="29.5" font-weight="bold" letter-spacing="1.180" stroke="#000" stroke-width="0.938" stroke-linejoin="round">OXYGEN</text>
<text transform="translate(778.74,594.60) scale(0.7460,1)" font-size="29.5" font-weight="bold" letter-spacing="1.180" stroke="#000" stroke-width="0.938" stroke-linejoin="round">SENSOR</text>
<text transform="translate(778.29,622.60) scale(0.8400,1)" font-size="22.0" font-weight="normal" stroke="#000" stroke-width="0.417" stroke-linejoin="round">(8W-30-9)</text>
<text transform="translate(298.90,662.00) scale(0.9091,1)" font-size="22.0" font-weight="normal">3</text>
<text transform="translate(308.32,743.50) scale(0.8168,1)" font-size="22.0" font-weight="normal" stroke="#000" stroke-width="0.429" stroke-linejoin="round">A142</text>
<text transform="translate(318.36,769.50) scale(0.8333,1)" font-size="22.0" font-weight="normal" stroke="#000" stroke-width="0.420" stroke-linejoin="round">16</text>
<text transform="translate(298.61,795.50) scale(0.8345,1)" font-size="22.0" font-weight="normal" stroke="#000" stroke-width="0.419" stroke-linejoin="round">DG/OR</text>
<text transform="translate(688.90,662.00) scale(0.9091,1)" font-size="22.0" font-weight="normal">3</text>
<text transform="translate(698.02,743.50) scale(0.8168,1)" font-size="22.0" font-weight="normal" stroke="#000" stroke-width="0.429" stroke-linejoin="round">A142</text>
<text transform="translate(708.06,769.50) scale(0.8333,1)" font-size="22.0" font-weight="normal" stroke="#000" stroke-width="0.420" stroke-linejoin="round">16</text>
<text transform="translate(688.31,795.50) scale(0.8345,1)" font-size="22.0" font-weight="normal" stroke="#000" stroke-width="0.419" stroke-linejoin="round">DG/OR</text>
<text transform="translate(1147.35,863.00) scale(0.7050,1)" font-size="30.5" font-weight="bold" letter-spacing="1.525" stroke="#000" stroke-width="0.426" stroke-linejoin="round">S151</text>
<text transform="translate(288.16,932.00) scale(0.7460,1)" font-size="29.5" font-weight="bold" letter-spacing="1.180" stroke="#000" stroke-width="0.938" stroke-linejoin="round">LEFT</text>
<text transform="translate(288.38,964.00) scale(0.7460,1)" font-size="29.5" font-weight="bold" letter-spacing="1.180" stroke="#000" stroke-width="0.938" stroke-linejoin="round">UPSTREAM</text>
<text transform="translate(288.16,996.00) scale(0.7460,1)" font-size="29.5" font-weight="bold" letter-spacing="1.180" stroke="#000" stroke-width="0.938" stroke-linejoin="round">HEATED</text>
<text transform="translate(288.82,1028.00) scale(0.7460,1)" font-size="29.5" font-weight="bold" letter-spacing="1.180" stroke="#000" stroke-width="0.938" stroke-linejoin="round">OXYGEN</text>
<text transform="translate(289.04,1060.00) scale(0.7460,1)" font-size="29.5" font-weight="bold" letter-spacing="1.180" stroke="#000" stroke-width="0.938" stroke-linejoin="round">SENSOR</text>
<text transform="translate(288.59,1090.00) scale(0.8400,1)" font-size="22.0" font-weight="normal" stroke="#000" stroke-width="0.417" stroke-linejoin="round">(8W-30-8)</text>
<text transform="translate(588.16,932.00) scale(0.7460,1)" font-size="29.5" font-weight="bold" letter-spacing="1.180" stroke="#000" stroke-width="0.938" stroke-linejoin="round">FUEL</text>
<text transform="translate(588.16,964.00) scale(0.7460,1)" font-size="29.5" font-weight="bold" letter-spacing="1.180" stroke="#000" stroke-width="0.938" stroke-linejoin="round">INJECTOR</text>
<text transform="translate(588.16,996.00) scale(0.7460,1)" font-size="29.5" font-weight="bold" letter-spacing="1.180" stroke="#000" stroke-width="0.938" stroke-linejoin="round">NO. 2</text>
<text transform="translate(588.59,1025.20) scale(0.8400,1)" font-size="22.0" font-weight="normal" stroke="#000" stroke-width="0.417" stroke-linejoin="round">(8W-30-5)</text>
<text transform="translate(887.86,932.00) scale(0.7460,1)" font-size="29.5" font-weight="bold" letter-spacing="1.180" stroke="#000" stroke-width="0.938" stroke-linejoin="round">FUEL</text>
<text transform="translate(887.86,964.00) scale(0.7460,1)" font-size="29.5" font-weight="bold" letter-spacing="1.180" stroke="#000" stroke-width="0.938" stroke-linejoin="round">INJECTOR</text>
<text transform="translate(887.86,996.00) scale(0.7460,1)" font-size="29.5" font-weight="bold" letter-spacing="1.180" stroke="#000" stroke-width="0.938" stroke-linejoin="round">NO. 4</text>
<text transform="translate(888.29,1025.20) scale(0.8400,1)" font-size="22.0" font-weight="normal" stroke="#000" stroke-width="0.417" stroke-linejoin="round">(8W-30-5)</text>
<text transform="translate(1187.16,932.00) scale(0.7460,1)" font-size="29.5" font-weight="bold" letter-spacing="1.180" stroke="#000" stroke-width="0.938" stroke-linejoin="round">FUEL</text>
<text transform="translate(1187.16,964.00) scale(0.7460,1)" font-size="29.5" font-weight="bold" letter-spacing="1.180" stroke="#000" stroke-width="0.938" stroke-linejoin="round">INJECTOR</text>
<text transform="translate(1187.16,996.00) scale(0.7460,1)" font-size="29.5" font-weight="bold" letter-spacing="1.180" stroke="#000" stroke-width="0.938" stroke-linejoin="round">NO. 6</text>
<text transform="translate(1187.59,1025.20) scale(0.8400,1)" font-size="22.0" font-weight="normal" stroke="#000" stroke-width="0.417" stroke-linejoin="round">(8W-30-5)</text>
<text transform="translate(198.62,1109.50) scale(0.9783,1)" font-size="22.0" font-weight="normal">2</text>
<text transform="translate(207.23,1169.90) scale(0.8168,1)" font-size="22.0" font-weight="normal" stroke="#000" stroke-width="0.429" stroke-linejoin="round">A142</text>
<text transform="translate(217.26,1195.90) scale(0.8333,1)" font-size="22.0" font-weight="normal" stroke="#000" stroke-width="0.420" stroke-linejoin="round">16</text>
<text transform="translate(197.51,1221.90) scale(0.8345,1)" font-size="22.0" font-weight="normal" stroke="#000" stroke-width="0.419" stroke-linejoin="round">DG/OR</text>
<text transform="translate(507.13,1169.90) scale(0.8168,1)" font-size="22.0" font-weight="normal" stroke="#000" stroke-width="0.429" stroke-linejoin="round">A142</text>
<text transform="translate(517.16,1195.90) scale(0.8333,1)" font-size="22.0" font-weight="normal" stroke="#000" stroke-width="0.420" stroke-linejoin="round">16</text>
<text transform="translate(497.41,1221.90) scale(0.8345,1)" font-size="22.0" font-weight="normal" stroke="#000" stroke-width="0.419" stroke-linejoin="round">DG/OR</text>
<text transform="translate(806.62,1169.90) scale(0.8168,1)" font-size="22.0" font-weight="normal" stroke="#000" stroke-width="0.429" stroke-linejoin="round">A142</text>
<text transform="translate(816.66,1195.90) scale(0.8333,1)" font-size="22.0" font-weight="normal" stroke="#000" stroke-width="0.420" stroke-linejoin="round">16</text>
<text transform="translate(796.91,1221.90) scale(0.8345,1)" font-size="22.0" font-weight="normal" stroke="#000" stroke-width="0.419" stroke-linejoin="round">DG/OR</text>
<text transform="translate(1106.22,1169.90) scale(0.8168,1)" font-size="22.0" font-weight="normal" stroke="#000" stroke-width="0.429" stroke-linejoin="round">A142</text>
<text transform="translate(1116.26,1195.90) scale(0.8333,1)" font-size="22.0" font-weight="normal" stroke="#000" stroke-width="0.420" stroke-linejoin="round">16</text>
<text transform="translate(1096.51,1221.90) scale(0.8345,1)" font-size="22.0" font-weight="normal" stroke="#000" stroke-width="0.419" stroke-linejoin="round">DG/OR</text>
<text transform="translate(1146.35,1330.60) scale(0.7050,1)" font-size="30.5" font-weight="bold" letter-spacing="1.525" stroke="#000" stroke-width="0.426" stroke-linejoin="round">S148</text>
<text transform="translate(287.76,1400.00) scale(0.7460,1)" font-size="29.5" font-weight="bold" letter-spacing="1.180" stroke="#000" stroke-width="0.938" stroke-linejoin="round">RIGHT</text>
<text transform="translate(287.98,1432.00) scale(0.7460,1)" font-size="29.5" font-weight="bold" letter-spacing="1.180" stroke="#000" stroke-width="0.938" stroke-linejoin="round">UPSTREAM</text>
<text transform="translate(287.76,1464.00) scale(0.7460,1)" font-size="29.5" font-weight="bold" letter-spacing="1.180" stroke="#000" stroke-width="0.938" stroke-linejoin="round">HEATED</text>
<text transform="translate(288.42,1496.00) scale(0.7460,1)" font-size="29.5" font-weight="bold" letter-spacing="1.180" stroke="#000" stroke-width="0.938" stroke-linejoin="round">OXYGEN</text>
<text transform="translate(288.64,1528.00) scale(0.7460,1)" font-size="29.5" font-weight="bold" letter-spacing="1.180" stroke="#000" stroke-width="0.938" stroke-linejoin="round">SENSOR</text>
<text transform="translate(288.19,1555.60) scale(0.8400,1)" font-size="22.0" font-weight="normal" stroke="#000" stroke-width="0.417" stroke-linejoin="round">(8W-30-8)</text>
<text transform="translate(587.46,1400.00) scale(0.7460,1)" font-size="29.5" font-weight="bold" letter-spacing="1.180" stroke="#000" stroke-width="0.938" stroke-linejoin="round">FUEL</text>
<text transform="translate(587.46,1432.00) scale(0.7460,1)" font-size="29.5" font-weight="bold" letter-spacing="1.180" stroke="#000" stroke-width="0.938" stroke-linejoin="round">INJECTOR</text>
<text transform="translate(587.46,1464.00) scale(0.7460,1)" font-size="29.5" font-weight="bold" letter-spacing="1.180" stroke="#000" stroke-width="0.938" stroke-linejoin="round">NO. 1</text>
<text transform="translate(587.89,1492.00) scale(0.8400,1)" font-size="22.0" font-weight="normal" stroke="#000" stroke-width="0.417" stroke-linejoin="round">(8W-30-5)</text>
<text transform="translate(887.46,1400.00) scale(0.7460,1)" font-size="29.5" font-weight="bold" letter-spacing="1.180" stroke="#000" stroke-width="0.938" stroke-linejoin="round">FUEL</text>
<text transform="translate(887.46,1432.00) scale(0.7460,1)" font-size="29.5" font-weight="bold" letter-spacing="1.180" stroke="#000" stroke-width="0.938" stroke-linejoin="round">INJECTOR</text>
<text transform="translate(887.46,1464.00) scale(0.7460,1)" font-size="29.5" font-weight="bold" letter-spacing="1.180" stroke="#000" stroke-width="0.938" stroke-linejoin="round">NO. 3</text>
<text transform="translate(887.89,1492.00) scale(0.8400,1)" font-size="22.0" font-weight="normal" stroke="#000" stroke-width="0.417" stroke-linejoin="round">(8W-30-5)</text>
<text transform="translate(1186.96,1400.00) scale(0.7460,1)" font-size="29.5" font-weight="bold" letter-spacing="1.180" stroke="#000" stroke-width="0.938" stroke-linejoin="round">FUEL</text>
<text transform="translate(1186.96,1432.00) scale(0.7460,1)" font-size="29.5" font-weight="bold" letter-spacing="1.180" stroke="#000" stroke-width="0.938" stroke-linejoin="round">INJECTOR</text>
<text transform="translate(1186.96,1464.00) scale(0.7460,1)" font-size="29.5" font-weight="bold" letter-spacing="1.180" stroke="#000" stroke-width="0.938" stroke-linejoin="round">NO. 5</text>
<text transform="translate(1187.39,1492.00) scale(0.8400,1)" font-size="22.0" font-weight="normal" stroke="#000" stroke-width="0.417" stroke-linejoin="round">(8W-30-5)</text>
<text transform="translate(36.12,1636.80) scale(0.8168,1)" font-size="22.0" font-weight="normal" stroke="#000" stroke-width="0.429" stroke-linejoin="round">A142</text>
<text transform="translate(46.16,1662.80) scale(0.8333,1)" font-size="22.0" font-weight="normal" stroke="#000" stroke-width="0.420" stroke-linejoin="round">16</text>
<text transform="translate(26.41,1688.80) scale(0.8345,1)" font-size="22.0" font-weight="normal" stroke="#000" stroke-width="0.419" stroke-linejoin="round">DG/OR</text>
<text transform="translate(197.62,1575.20) scale(0.8893,1)" font-size="22.0" font-weight="normal">2</text>
<text transform="translate(206.43,1636.80) scale(0.8168,1)" font-size="22.0" font-weight="normal" stroke="#000" stroke-width="0.429" stroke-linejoin="round">A142</text>
<text transform="translate(216.46,1662.80) scale(0.8333,1)" font-size="22.0" font-weight="normal" stroke="#000" stroke-width="0.420" stroke-linejoin="round">16</text>
<text transform="translate(196.71,1688.80) scale(0.8345,1)" font-size="22.0" font-weight="normal" stroke="#000" stroke-width="0.419" stroke-linejoin="round">DG/OR</text>
<text transform="translate(506.72,1636.80) scale(0.8168,1)" font-size="22.0" font-weight="normal" stroke="#000" stroke-width="0.429" stroke-linejoin="round">A142</text>
<text transform="translate(516.76,1662.80) scale(0.8333,1)" font-size="22.0" font-weight="normal" stroke="#000" stroke-width="0.420" stroke-linejoin="round">16</text>
<text transform="translate(497.01,1688.80) scale(0.8345,1)" font-size="22.0" font-weight="normal" stroke="#000" stroke-width="0.419" stroke-linejoin="round">DG/OR</text>
<text transform="translate(806.42,1636.80) scale(0.8168,1)" font-size="22.0" font-weight="normal" stroke="#000" stroke-width="0.429" stroke-linejoin="round">A142</text>
<text transform="translate(816.46,1662.80) scale(0.8333,1)" font-size="22.0" font-weight="normal" stroke="#000" stroke-width="0.420" stroke-linejoin="round">16</text>
<text transform="translate(796.71,1688.80) scale(0.8345,1)" font-size="22.0" font-weight="normal" stroke="#000" stroke-width="0.419" stroke-linejoin="round">DG/OR</text>
<text transform="translate(1106.22,1636.80) scale(0.8168,1)" font-size="22.0" font-weight="normal" stroke="#000" stroke-width="0.429" stroke-linejoin="round">A142</text>
<text transform="translate(1116.26,1662.80) scale(0.8333,1)" font-size="22.0" font-weight="normal" stroke="#000" stroke-width="0.420" stroke-linejoin="round">16</text>
<text transform="translate(1096.51,1688.80) scale(0.8345,1)" font-size="22.0" font-weight="normal" stroke="#000" stroke-width="0.419" stroke-linejoin="round">DG/OR</text>
<text transform="translate(1147.35,1796.20) scale(0.7050,1)" font-size="30.5" font-weight="bold" letter-spacing="1.525" stroke="#000" stroke-width="0.426" stroke-linejoin="round">S145</text>
</g>
<g>
<g transform="translate(1149.44,167.90) scale(0.7050,1)" fill="#fff"><rect x="23.85" y="-4.18" width="6.59" height="5.59"/><rect x="34.95" y="-4.18" width="6.34" height="5.59"/></g>
<g transform="translate(38.72,266.30) scale(0.8168,1)" fill="#fff"><rect x="14.79" y="-2.44" width="5.13" height="3.85"/><rect x="22.30" y="-2.44" width="5.01" height="3.85"/></g>
<g transform="translate(48.76,292.30) scale(0.8333,1)" fill="#fff"><rect x="0.12" y="-2.43" width="5.13" height="3.84"/><rect x="7.62" y="-2.43" width="5.01" height="3.84"/></g>
<g transform="translate(578.62,266.30) scale(0.8168,1)" fill="#fff"><rect x="14.79" y="-2.44" width="5.13" height="3.85"/><rect x="22.30" y="-2.44" width="5.01" height="3.85"/></g>
<g transform="translate(588.66,292.30) scale(0.8333,1)" fill="#fff"><rect x="0.12" y="-2.43" width="5.13" height="3.84"/><rect x="7.62" y="-2.43" width="5.01" height="3.84"/></g>
<g transform="translate(1108.42,266.30) scale(0.8168,1)" fill="#fff"><rect x="14.79" y="-2.44" width="5.13" height="3.85"/><rect x="22.30" y="-2.44" width="5.01" height="3.85"/></g>
<g transform="translate(1118.46,292.30) scale(0.8333,1)" fill="#fff"><rect x="0.12" y="-2.43" width="5.13" height="3.84"/><rect x="7.62" y="-2.43" width="5.01" height="3.84"/></g>
<g transform="translate(1149.05,425.90) scale(0.7050,1)" fill="#fff"><rect x="22.17" y="-4.18" width="6.59" height="5.59"/><rect x="33.27" y="-4.18" width="6.34" height="5.59"/></g>
<g transform="translate(38.03,514.50) scale(0.8168,1)" fill="#fff"><rect x="14.79" y="-2.44" width="5.13" height="3.85"/><rect x="22.30" y="-2.44" width="5.01" height="3.85"/></g>
<g transform="translate(48.06,540.50) scale(0.8333,1)" fill="#fff"><rect x="0.12" y="-2.43" width="5.13" height="3.84"/><rect x="7.62" y="-2.43" width="5.01" height="3.84"/></g>
<g transform="translate(1107.72,514.50) scale(0.8168,1)" fill="#fff"><rect x="14.79" y="-2.44" width="5.13" height="3.85"/><rect x="22.30" y="-2.44" width="5.01" height="3.85"/></g>
<g transform="translate(1117.76,540.50) scale(0.8333,1)" fill="#fff"><rect x="0.12" y="-2.43" width="5.13" height="3.84"/><rect x="7.62" y="-2.43" width="5.01" height="3.84"/></g>
<g transform="translate(79.14,674.90) scale(0.7050,1)" fill="#fff"><rect x="23.85" y="-4.18" width="6.59" height="5.59"/><rect x="34.95" y="-4.18" width="6.34" height="5.59"/></g>
<g transform="translate(1148.14,674.90) scale(0.7050,1)" fill="#fff"><rect x="23.85" y="-4.18" width="6.59" height="5.59"/><rect x="34.95" y="-4.18" width="6.34" height="5.59"/></g>
<g transform="translate(1107.72,743.50) scale(0.8168,1)" fill="#fff"><rect x="14.79" y="-2.44" width="5.13" height="3.85"/><rect x="22.30" y="-2.44" width="5.01" height="3.85"/></g>
<g transform="translate(1117.76,769.50) scale(0.8333,1)" fill="#fff"><rect x="0.12" y="-2.43" width="5.13" height="3.84"/><rect x="7.62" y="-2.43" width="5.01" height="3.84"/></g>
<g transform="translate(38.22,972.50) scale(0.8168,1)" fill="#fff"><rect x="14.79" y="-2.44" width="5.13" height="3.85"/><rect x="22.30" y="-2.44" width="5.01" height="3.85"/></g>
<g transform="translate(48.26,998.50) scale(0.8333,1)" fill="#fff"><rect x="0.12" y="-2.43" width="5.13" height="3.84"/><rect x="7.62" y="-2.43" width="5.01" height="3.84"/></g>
<g transform="translate(308.32,743.50) scale(0.8168,1)" fill="#fff"><rect x="14.79" y="-2.44" width="5.13" height="3.85"/><rect x="22.30" y="-2.44" width="5.01" height="3.85"/></g>
<g transform="translate(318.36,769.50) scale(0.8333,1)" fill="#fff"><rect x="0.12" y="-2.43" width="5.13" height="3.84"/><rect x="7.62" y="-2.43" width="5.01" height="3.84"/></g>
<g transform="translate(698.02,743.50) scale(0.8168,1)" fill="#fff"><rect x="14.79" y="-2.44" width="5.13" height="3.85"/><rect x="22.30" y="-2.44" width="5.01" height="3.85"/></g>
<g transform="translate(708.06,769.50) scale(0.8333,1)" fill="#fff"><rect x="0.12" y="-2.43" width="5.13" height="3.84"/><rect x="7.62" y="-2.43" width="5.01" height="3.84"/></g>
<g transform="translate(1147.35,863.00) scale(0.7050,1)" fill="#fff"><rect x="22.17" y="-4.18" width="6.59" height="5.59"/><rect x="33.27" y="-4.18" width="6.34" height="5.59"/><rect x="59.15" y="-4.18" width="6.59" height="5.59"/><rect x="70.25" y="-4.18" width="6.34" height="5.59"/></g>
<g transform="translate(207.23,1169.90) scale(0.8168,1)" fill="#fff"><rect x="14.79" y="-2.44" width="5.13" height="3.85"/><rect x="22.30" y="-2.44" width="5.01" height="3.85"/></g>
<g transform="translate(217.26,1195.90) scale(0.8333,1)" fill="#fff"><rect x="0.12" y="-2.43" width="5.13" height="3.84"/><rect x="7.62" y="-2.43" width="5.01" height="3.84"/></g>
<g transform="translate(507.13,1169.90) scale(0.8168,1)" fill="#fff"><rect x="14.79" y="-2.44" width="5.13" height="3.85"/><rect x="22.30" y="-2.44" width="5.01" height="3.85"/></g>
<g transform="translate(517.16,1195.90) scale(0.8333,1)" fill="#fff"><rect x="0.12" y="-2.43" width="5.13" height="3.84"/><rect x="7.62" y="-2.43" width="5.01" height="3.84"/></g>
<g transform="translate(806.62,1169.90) scale(0.8168,1)" fill="#fff"><rect x="14.79" y="-2.44" width="5.13" height="3.85"/><rect x="22.30" y="-2.44" width="5.01" height="3.85"/></g>
<g transform="translate(816.66,1195.90) scale(0.8333,1)" fill="#fff"><rect x="0.12" y="-2.43" width="5.13" height="3.84"/><rect x="7.62" y="-2.43" width="5.01" height="3.84"/></g>
<g transform="translate(1106.22,1169.90) scale(0.8168,1)" fill="#fff"><rect x="14.79" y="-2.44" width="5.13" height="3.85"/><rect x="22.30" y="-2.44" width="5.01" height="3.85"/></g>
<g transform="translate(1116.26,1195.90) scale(0.8333,1)" fill="#fff"><rect x="0.12" y="-2.43" width="5.13" height="3.84"/><rect x="7.62" y="-2.43" width="5.01" height="3.84"/></g>
<g transform="translate(1146.35,1330.60) scale(0.7050,1)" fill="#fff"><rect x="22.17" y="-4.18" width="6.59" height="5.59"/><rect x="33.27" y="-4.18" width="6.34" height="5.59"/></g>
<g transform="translate(587.46,1464.00) scale(0.7460,1)" fill="#fff"><rect x="65.37" y="-4.32" width="6.39" height="5.99"/><rect x="76.66" y="-4.32" width="6.42" height="5.99"/></g>
<g transform="translate(36.12,1636.80) scale(0.8168,1)" fill="#fff"><rect x="14.79" y="-2.44" width="5.13" height="3.85"/><rect x="22.30" y="-2.44" width="5.01" height="3.85"/></g>
<g transform="translate(46.16,1662.80) scale(0.8333,1)" fill="#fff"><rect x="0.12" y="-2.43" width="5.13" height="3.84"/><rect x="7.62" y="-2.43" width="5.01" height="3.84"/></g>
<g transform="translate(206.43,1636.80) scale(0.8168,1)" fill="#fff"><rect x="14.79" y="-2.44" width="5.13" height="3.85"/><rect x="22.30" y="-2.44" width="5.01" height="3.85"/></g>
<g transform="translate(216.46,1662.80) scale(0.8333,1)" fill="#fff"><rect x="0.12" y="-2.43" width="5.13" height="3.84"/><rect x="7.62" y="-2.43" width="5.01" height="3.84"/></g>
<g transform="translate(506.72,1636.80) scale(0.8168,1)" fill="#fff"><rect x="14.79" y="-2.44" width="5.13" height="3.85"/><rect x="22.30" y="-2.44" width="5.01" height="3.85"/></g>
<g transform="translate(516.76,1662.80) scale(0.8333,1)" fill="#fff"><rect x="0.12" y="-2.43" width="5.13" height="3.84"/><rect x="7.62" y="-2.43" width="5.01" height="3.84"/></g>
<g transform="translate(806.42,1636.80) scale(0.8168,1)" fill="#fff"><rect x="14.79" y="-2.44" width="5.13" height="3.85"/><rect x="22.30" y="-2.44" width="5.01" height="3.85"/></g>
<g transform="translate(816.46,1662.80) scale(0.8333,1)" fill="#fff"><rect x="0.12" y="-2.43" width="5.13" height="3.84"/><rect x="7.62" y="-2.43" width="5.01" height="3.84"/></g>
<g transform="translate(1106.22,1636.80) scale(0.8168,1)" fill="#fff"><rect x="14.79" y="-2.44" width="5.13" height="3.85"/><rect x="22.30" y="-2.44" width="5.01" height="3.85"/></g>
<g transform="translate(1116.26,1662.80) scale(0.8333,1)" fill="#fff"><rect x="0.12" y="-2.43" width="5.13" height="3.84"/><rect x="7.62" y="-2.43" width="5.01" height="3.84"/></g>
<g transform="translate(1147.35,1796.20) scale(0.7050,1)" fill="#fff"><rect x="22.17" y="-4.18" width="6.59" height="5.59"/><rect x="33.27" y="-4.18" width="6.34" height="5.59"/></g>
</g>
</svg>
</body></html>
